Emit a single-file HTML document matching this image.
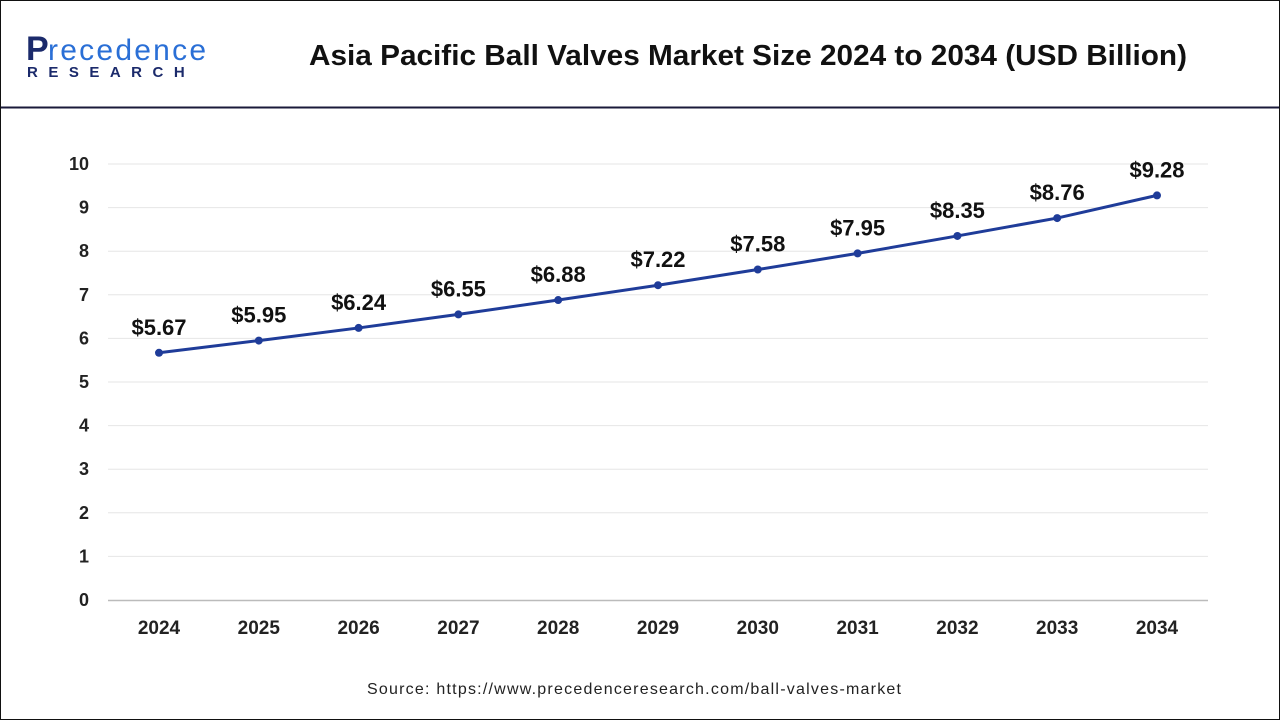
<!DOCTYPE html>
<html><head><meta charset="utf-8"><style>
body{margin:0;width:1280px;height:720px;overflow:hidden;background:#fff;font-family:"Liberation Sans",sans-serif}
#frame{position:absolute;left:0;top:0;width:1278px;height:718px;border:1px solid #111}
</style></head><body>
<div id="frame"></div>
<svg width="1280" height="720" style="position:absolute;left:0;top:0">
<g>
<text x="26" y="60" font-size="34" font-weight="bold" fill="#1b2a6b">P</text>
<text x="48" y="60" font-size="30" fill="#2a6fd6" textLength="158">recedence</text>
<text x="27" y="77" font-size="15" font-weight="bold" fill="#1b2a6b" letter-spacing="10.5">RESEARCH</text>
</g>
<text x="309" y="65" font-size="29" font-weight="bold" fill="#111" textLength="878" lengthAdjust="spacingAndGlyphs">Asia Pacific Ball Valves Market Size 2024 to 2034 (USD Billion)</text>
<line x1="1" y1="107.5" x2="1279" y2="107.5" stroke="#1a1a3a" stroke-width="2"/>
<g id="grid"></g><g id="plot"></g>
<text x="367" y="694" font-size="16" fill="#222" textLength="534">Source: https://www.precedenceresearch.com/ball-valves-market</text>
</svg>
<script>
const categories=["2024","2025","2026","2027","2028","2029","2030","2031","2032","2033","2034"];
const values=[5.67,5.95,6.24,6.55,6.88,7.22,7.58,7.95,8.35,8.76,9.28];
const valueLabels=["$5.67","$5.95","$6.24","$6.55","$6.88","$7.22","$7.58","$7.95","$8.35","$8.76","$9.28"];
const yTicks=[0,1,2,3,4,5,6,7,8,9,10];
const NS="http://www.w3.org/2000/svg";
const x=i=>159+i*99.8, y=v=>600-v*43.6;
function mk(t,a,p,txt){const e=document.createElementNS(NS,t);for(const k in a)e.setAttribute(k,a[k]);if(txt!==undefined)e.textContent=txt;p.appendChild(e);return e;}
const g=document.getElementById('grid'),p=document.getElementById('plot');
yTicks.forEach(v=>{
 if(v>0){const l=mk('line',{x1:108,x2:1208,y1:y(v),y2:y(v),stroke:'#e6e6e6'},g);
 
 }
 const t=mk('text',{x:89,y:y(v)+6,'text-anchor':'end','font-size':18,'font-weight':'bold',fill:'#222'},g,String(v));
 
 
});
const ax=mk('line',{x1:108,x2:1208,y1:600.5,y2:600.5,stroke:'#bbb','stroke-width':1.5},g);


categories.forEach((c,i)=>{
 const t=mk('text',{x:x(i),y:634,'text-anchor':'middle','font-size':19,'font-weight':'bold',fill:'#222'},g,c);
 
 
});
const line=mk('polyline',{points:values.map((v,i)=>x(i)+','+y(v)).join(' '),fill:'none',stroke:'#1f3c99','stroke-width':3},p);


values.forEach((v,i)=>{
 const c=mk('circle',{cx:x(i),cy:y(v),r:4,fill:'#1f3c99'},p);
 
 
 const t=mk('text',{x:x(i),y:y(v)-18,'text-anchor':'middle','font-size':22,'font-weight':'bold',fill:'#111'},p,valueLabels[i]);
 
 
});
</script>
</body></html>
